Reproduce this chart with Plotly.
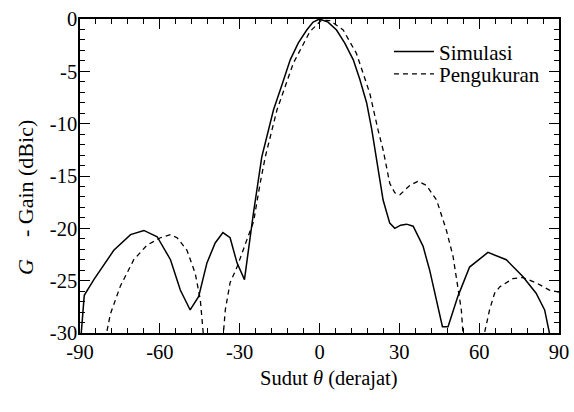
import plotly.graph_objects as go

# Simulasi (solid)
sim_theta = [-90, -88.4, -84.8, -77.3, -71, -66, -61, -56, -52.3, -48.6, -45.4, -42.3, -39.2,
             -36.3, -33.6, -31, -28.2, -24.8, -21.7, -17.3, -14, -11, -8, -4.8, -2.4, 0,
             3.2, 6.4, 9.5, 12.7, 15.2, 17.7, 19.6, 21.4, 23.9, 26.4, 28.3, 30.5, 32.7, 35.2,
             38.9, 41.4, 44, 46.2, 48.3, 52, 56.4, 63.3, 70.2, 76.4, 81.4, 84.6, 86.4, 90]
sim_gain = [-31.5, -26.4, -24.9, -22.1, -20.6, -20.2, -20.8, -23.0, -25.9, -27.8, -26.5, -23.3, -21.4,
            -20.4, -20.9, -23.3, -24.9, -18.5, -13.2, -8.7, -6.2, -3.9, -2.3, -1.05, -0.3, 0,
            -0.3, -1.05, -2.3, -3.9, -5.8, -8.0, -10.5, -13.2, -17.3, -19.5, -20.0, -19.7, -19.6, -19.8,
            -21.7, -24.0, -26.8, -29.4, -29.4, -26.5, -23.7, -22.3, -23.0, -24.6, -26.2, -27.8, -30, -33]

# Pengukuran (dashed)
meas_theta = [-90, -80, -78.6, -74.8, -69.8, -64.8, -59.8, -56, -53.5, -49.8, -46.7, -44.8, -43.7,
              -40, -36.1, -35.4, -33.6, -31, -27.3, -24.8, -22.3, -20.4, -16, -9.8, -3.6, 0.8,
              3.9, 8.9, 13.9, 18.9, 22, 23.9, 26.4, 28.3, 30.2, 33.9, 37, 40.2, 44, 47.7,
              50.2, 52, 53.3, 53.9, 58, 62, 63.9, 65.8, 67.7, 72.7, 76.4, 81.4, 86.4, 90]
meas_gain = [-38, -30, -28.2, -25.5, -23, -21.6, -20.9, -20.6, -20.9, -22.1, -24.3, -26.8, -30,
             -36, -30, -27.8, -25.2, -23.7, -21.1, -19.4, -15.7, -13.2, -8.7, -4.2, -1.2, -0.1,
             -0.15, -1.05, -3.3, -7.1, -10.6, -12.5, -15.7, -16.6, -16.8, -15.9, -15.5, -15.9, -17.3, -20.2,
             -22.7, -25.6, -27.8, -30, -36, -30, -27.8, -26.2, -25.6, -24.8, -24.7, -25.2, -25.9, -26.1]

x_ticks = [-90, -60, -30, 0, 30, 60, 90]
y_ticks = [0, -5, -10, -15, -20, -25, -30]

FONT = "Liberation Serif, Times New Roman, serif"

fig = go.Figure()
fig.add_trace(go.Scatter(x=sim_theta, y=sim_gain, mode="lines", name="Simulasi",
                         line=dict(color="black", width=1.5), legend="legend"))
fig.add_trace(go.Scatter(x=meas_theta, y=meas_gain, mode="lines", name="Pengukuran",
                         line=dict(color="black", width=1.3, dash="5px,4px"), legend="legend2"))

axis_common = dict(
    showgrid=False, zeroline=False, showline=True, linecolor="black", linewidth=1.5,
    mirror="allticks", ticks="inside", ticklen=10, tickwidth=1.3, tickcolor="black",
    automargin=False,
    tickfont=dict(family=FONT, size=20.5, color="black"),
)

fig.update_xaxes(range=[-90, 90], tickvals=x_ticks, ticktext=[str(v) for v in x_ticks],
                 minor=dict(dtick=6, tick0=0, ticks="inside", ticklen=5, tickwidth=1.2,
                            tickcolor="black", showgrid=False),
                 **axis_common)
fig.update_yaxes(range=[-30, 0], tickvals=y_ticks, ticktext=[str(v) for v in y_ticks],
                 ticklabelstandoff=-3,
                 minor=dict(dtick=1, tick0=0, ticks="inside", ticklen=5, tickwidth=1.2,
                            tickcolor="black", showgrid=False),
                 **axis_common)

legend_common = dict(x=0.645, xanchor="left", yanchor="middle",
                     bgcolor="rgba(0,0,0,0)", font=dict(family=FONT, size=21, color="black"),
                     itemwidth=40)

fig.update_layout(
    width=574, height=412,
    margin=dict(l=80, r=15, t=19, b=79, autoexpand=False),
    paper_bgcolor="white", plot_bgcolor="white",
    font=dict(family=FONT, size=20.5, color="black"),
    showlegend=True,
    legend=dict(y=0.895, **legend_common),
    legend2=dict(y=0.824, **legend_common),
    annotations=[
        dict(text="Sudut <i>θ</i> (derajat)", xref="paper", yref="paper",
             x=0.52, y=-0.145, xanchor="center", yanchor="middle", showarrow=False,
             font=dict(family=FONT, size=20.5, color="black")),
        dict(text="<i>G</i>\u00a0\u00a0\u00a0\u00a0- Gain (dBic)", xref="paper", yref="paper",
             x=-0.115, y=0.433, xanchor="center", yanchor="middle", textangle=-90,
             showarrow=False, font=dict(family=FONT, size=22, color="black")),
    ],
)

fig.write_html("out.html")
